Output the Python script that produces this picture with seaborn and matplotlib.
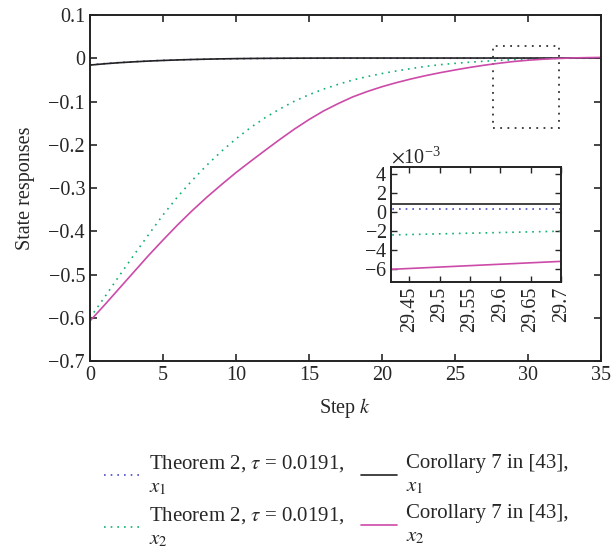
import matplotlib
import matplotlib.pyplot as plt
import matplotlib.ticker as mticker
from matplotlib.patches import Rectangle
import seaborn as sns
import pandas as pd

matplotlib.use('Agg')

# step index
steps = list(range(36))

# Theorem 2, x1 (blue dotted)
thm_x1 = [-0.0150, -0.0121, -0.0097, -0.0077, -0.0060, -0.0046, -0.0035, -0.0026,
          -0.0019, -0.0013, -0.0008, -0.0004, -0.0001, 0.0001, 0.0002, 0.0003,
          0.0003, 0.00035, 0.00035, 0.00035, 0.00035, 0.00035, 0.00035, 0.00035,
          0.00035, 0.00035, 0.00035, 0.00035, 0.00035, 0.00035, 0.00035, 0.00035,
          0.00035, 0.00035, 0.00035, 0.00035]
# Theorem 2, x2 (green dotted)
thm_x2 = [-0.600, -0.552, -0.503, -0.455, -0.408, -0.362, -0.320, -0.282,
          -0.247, -0.215, -0.186, -0.160, -0.137, -0.117, -0.099, -0.084,
          -0.071, -0.060, -0.050, -0.042, -0.035, -0.029, -0.0235, -0.0185,
          -0.0145, -0.0115, -0.0089, -0.0066, -0.0047, -0.0030, -0.0016, -0.0006,
          0.0001, 0.0006, 0.0009, 0.0011]
# Corollary 7 in [43], x1 (black solid)
cor_x1 = [-0.0155, -0.0125, -0.0100, -0.0080, -0.0062, -0.0048, -0.0036, -0.0026,
          -0.0018, -0.0011, -0.0006, -0.0002, 0.0001, 0.0003, 0.0005, 0.0006,
          0.0007, 0.0008, 0.0008, 0.0008, 0.0008, 0.0008, 0.0008, 0.0008,
          0.0008, 0.0008, 0.0008, 0.0008, 0.0008, 0.0008, 0.0008, 0.0008,
          0.0008, 0.0008, 0.0008, 0.0008]
# Corollary 7 in [43], x2 (magenta solid)
cor_x2 = [-0.607, -0.570, -0.532, -0.494, -0.456, -0.420, -0.385, -0.352,
          -0.321, -0.292, -0.264, -0.238, -0.2125, -0.1875, -0.1635, -0.1415,
          -0.1215, -0.1045, -0.0890, -0.0765, -0.0655, -0.0560, -0.0475, -0.0398,
          -0.0330, -0.0268, -0.0210, -0.0158, -0.0113, -0.0073, -0.0043, -0.0020,
          -0.0003, 0.0010, 0.0017, 0.0022]

labels = ["Theorem 2, $\\tau$ = 0.0191,\n$x_1$",
          "Theorem 2, $\\tau$ = 0.0191,\n$x_2$",
          "Corollary 7 in [43],\n$x_1$",
          "Corollary 7 in [43],\n$x_2$"]
colors = ["#4a4ac8", "#10b070", "#222222", "#cc4aa8"]
dash_styles = [(1, 3), (1, 3), "", ""]

main_yticks = [0.1, 0, -0.1, -0.2, -0.3, -0.4, -0.5, -0.6, -0.7]
main_yticklabels = ["0.1", "0", "\u22120.1", "\u22120.2", "\u22120.3", "\u22120.4",
                    "\u22120.5", "\u22120.6", "\u22120.7"]
main_xticks = [0, 5, 10, 15, 20, 25, 30, 35]

inset_xticks = [29.45, 29.5, 29.55, 29.6, 29.65, 29.7]
inset_xticklabels = ["29.45", "29.5", "29.55", "29.6", "29.65", "29.7"]
inset_yticks = [-6e-3, -4e-3, -2e-3, 0, 2e-3, 4e-3]

# zoom window marked on the main plot
zoom_box = (27.6, -0.162, 32.1 - 27.6, 0.028 + 0.162)

df = pd.DataFrame({
    "k": steps * 4,
    "value": thm_x1 + thm_x2 + cor_x1 + cor_x2,
    "series": sum([[lab] * len(steps) for lab in labels], []),
})

FS = 14.5
sns.set_style("ticks")
plt.rcParams['font.family'] = ['Liberation Serif', 'DejaVu Serif']
plt.rcParams['mathtext.fontset'] = 'stix'
plt.rcParams['font.size'] = FS

palette = dict(zip(labels, colors))
dashes = dict(zip(labels, dash_styles))

fig = plt.figure(figsize=(6.12, 5.6), dpi=100)
ax = fig.add_axes([0.147, 0.355, 0.835, 0.618])
sns.lineplot(data=df, x="k", y="value", hue="series", style="series",
             palette=palette, dashes=dashes, linewidth=1.2, ax=ax, legend=False)

ax.set_xlim(0, 35)
ax.set_ylim(-0.7, 0.1)
ax.set_xticks(main_xticks)
ax.set_yticks(main_yticks)
ax.set_yticklabels(main_yticklabels)
ax.set_xlabel("Step $k$", fontsize=FS, labelpad=8)
ax.set_ylabel("State responses", fontsize=FS, labelpad=10)
ax.tick_params(direction='in', top=True, right=True, length=5, width=1.2,
               labelsize=FS)
for sp in ax.spines.values():
    sp.set_linewidth(1.4)
    sp.set_color("#222222")

ax.add_patch(Rectangle(zoom_box[:2], zoom_box[2], zoom_box[3], fill=False,
                       edgecolor="#333333", linestyle=(0, (1, 3)), linewidth=1.3))

# inset
axin = fig.add_axes([0.639, 0.496, 0.278, 0.205])
sns.lineplot(data=df, x="k", y="value", hue="series", style="series",
             palette=palette, dashes=dashes, linewidth=1.2, ax=axin, legend=False)
axin.set_xlim(29.42, 29.70)
axin.set_ylim(-7.4e-3, 4.7e-3)
axin.set_xticks(inset_xticks)
axin.set_xticklabels(inset_xticklabels, rotation=90)
axin.set_yticks(inset_yticks)
fmt = mticker.ScalarFormatter(useMathText=True)
fmt.set_powerlimits((0, 0))
axin.yaxis.set_major_formatter(fmt)
axin.yaxis.get_offset_text().set_fontsize(FS)
axin.set_xlabel("")
axin.set_ylabel("")
axin.tick_params(direction='in', top=True, right=True, length=4, width=1.0,
                 labelsize=FS, pad=3)
for sp in axin.spines.values():
    sp.set_linewidth(1.4)
    sp.set_color("#222222")

handles = ax.get_lines()[:4]
leg = fig.legend(handles, labels, loc='upper center', bbox_to_anchor=(0.55, 0.225),
                 ncol=2, frameon=False, fontsize=15, handlelength=1.7,
                 columnspacing=0.8, handletextpad=0.45, labelspacing=0.4)
for t in leg.get_texts():
    t.set_linespacing(1.3)

fig.savefig("out.png", dpi=100)
